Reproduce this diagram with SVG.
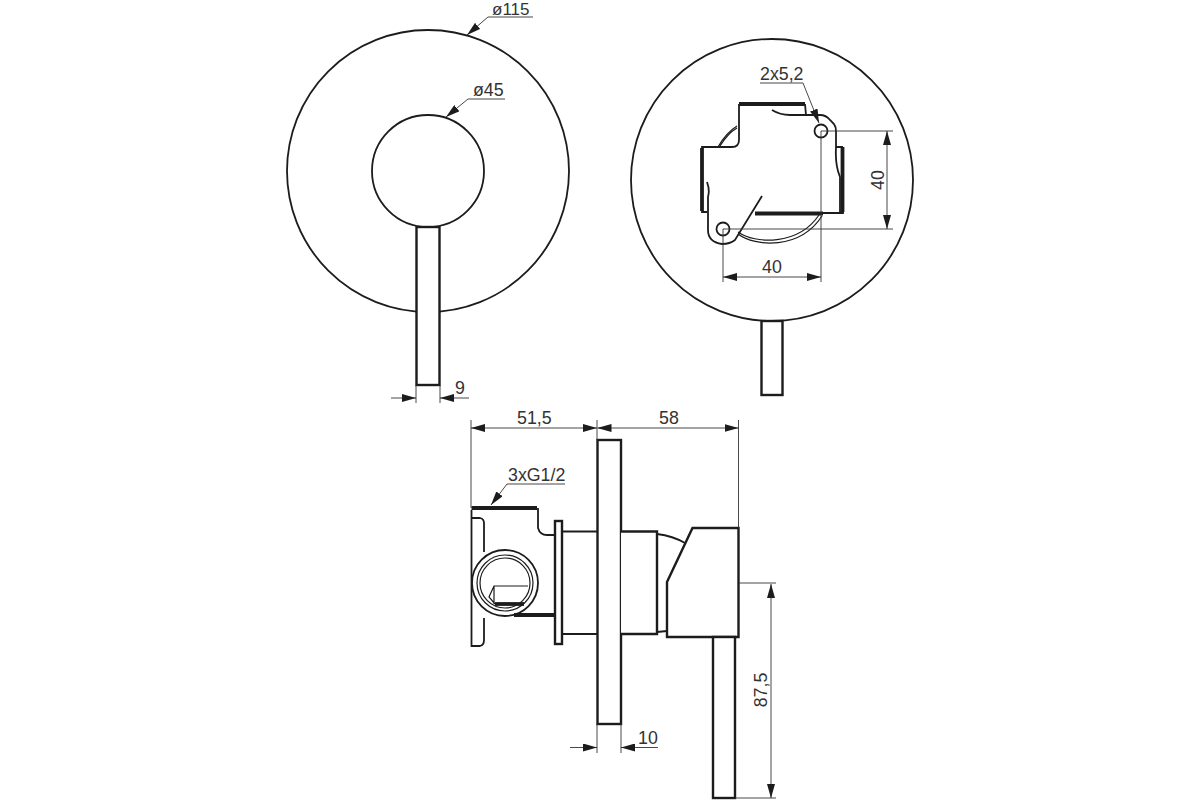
<svg xmlns="http://www.w3.org/2000/svg" width="1200" height="800" viewBox="0 0 1200 800">
<defs>
<marker id="arr" viewBox="0 0 14 8" refX="14" refY="4" markerWidth="14" markerHeight="8" markerUnits="userSpaceOnUse" orient="auto-start-reverse"><path d="M0 0L14 4L0 8Z" fill="#1c1c1c"/></marker>
</defs>
<style>
.o{fill:none;stroke:#1c1c1c;stroke-width:1.800}
.h{fill:none;stroke:#1c1c1c;stroke-width:1.200}
.w{fill:#fff;stroke:#1c1c1c;stroke-width:2.400}
.k{fill:none;stroke:#1c1c1c;stroke-width:3.800}
.t{fill:none;stroke:#333;stroke-width:.9}
.d{fill:none;stroke:#333;stroke-width:.9;marker-end:url(#arr)}
text{font-family:"Liberation Sans",Arial,sans-serif;font-size:17.800px;fill:#333}
</style>
<rect width="1200" height="800" fill="#fff"/>
<g id="front-view">
<circle class="o" cx="428" cy="171" r="141"/>
<circle class="o" cx="428" cy="171" r="56"/>
<rect class="w" x="416.500" y="227" width="23" height="158"/>
</g>
<g id="rear-view">
<circle class="o" cx="772" cy="180" r="141"/>
<rect class="w" x="761.500" y="321" width="21" height="74"/>
<path class="h" d="M720 146C725 138 730 132 737 128M718 147C723 138 729 131 737 126M738 234C755 247 800 250 822 216M738 232C755 244 798 246 819 215"/>
<path class="o" d="M739 104V140Q739 147 732 147H702V212H707M707 182Q710 190 708 197V230Q708 242 722 244Q730 244 735 240L762 196M805 104L806 115M772 110Q780 115 790 115H820Q826 115 830 120L834 124Q836 127 836 131V147H843M836 148Q835 165 840 177V213H823M843 147V213H823"/>
<path class="k" d="M739 104H805M702 148V211M842.500 147V212M755 213.500H823"/>
<circle class="o" cx="821" cy="131" r="6.500"/>
<circle class="o" cx="723" cy="229" r="6.500"/>
</g>
<g id="side-view">
<rect class="w" x="597.500" y="440" width="23.500" height="284"/>
<path class="w" d="M621 531.500H657V634H621"/>
<path class="o" d="M657 534Q673 536 685 543M657 632L667 631"/>
<path class="w" d="M692.500 528H738.500V637H667V582Z"/>
<rect class="w" x="713" y="637" width="22" height="161"/>
<rect class="w" x="555" y="521" width="7" height="123"/>
<path class="o" d="M562 531.500H597M562 634H597"/>
<path class="o" d="M471.500 510V646H480Q484 645 484 640V618M471.500 518H480Q484 519 484 523V552M538 508V528Q540 535 547 535H555"/>
<path class="k" d="M471.500 508H537M514 615H555"/>
<circle class="o" cx="505" cy="583" r="33"/>
<circle class="h" cx="505" cy="583" r="28"/>
<circle class="h" cx="505" cy="583" r="25"/>
<path class="h" d="M528 586H494L489 597L495 604M494 586V604"/>
<path class="k" d="M495 604H524"/>
</g>
<g id="connectors">
<path class="d" d="M533 17H488L467 35"/>
<path class="d" d="M505 99H468L446 117"/>
<path class="t" d="M416 385V403M440 385V403"/>
<path class="d" d="M391 398H416"/>
<path class="d" d="M469 398H440"/>
<path class="d" d="M760 83H803L819 123"/>
<path class="t" d="M821 131H893M723 229H893M821 131V282M723 229V282"/>
<path class="d" d="M887 180V131"/>
<path class="d" d="M887 180V229"/>
<path class="d" d="M772 277H723"/>
<path class="d" d="M772 277H821"/>
<path class="t" d="M471 420V508M597 420V440M738.500 420V528"/>
<path class="d" d="M534 428H471"/>
<path class="d" d="M534 428H597"/>
<path class="d" d="M668 428H597.500"/>
<path class="d" d="M668 428H738.500"/>
<path class="d" d="M565 484H507L491 505"/>
<path class="t" d="M739 583H776M735 798H776"/>
<path class="d" d="M771 690V584"/>
<path class="d" d="M771 690V798"/>
<path class="t" d="M597 724V753M621 724V753"/>
<path class="d" d="M570 747.500H597"/>
<path class="d" d="M658 747.500H621"/>
</g>
<g id="labels">
<text x="492" y="15" style="font-size:17px">ø115</text>
<text x="473" y="96">ø45</text>
<text x="455" y="394">9</text>
<text x="760" y="80">2x5,2</text>
<text x="762" y="273">40</text>
<text transform="translate(884 180) rotate(-90)" text-anchor="middle">40</text>
<text x="517" y="424">51,5</text>
<text x="659" y="424">58</text>
<text x="508" y="481">3xG1/2</text>
<text transform="translate(767 690) rotate(-90)" text-anchor="middle">87,5</text>
<text x="638" y="744">10</text>
</g>
</svg>
